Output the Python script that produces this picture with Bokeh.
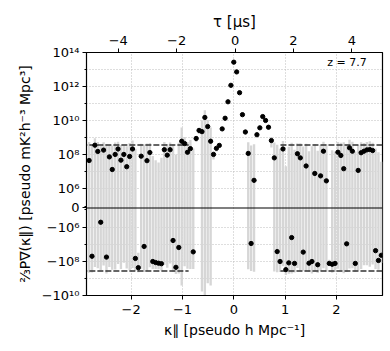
import numpy as np
from bokeh.plotting import figure
from bokeh.models import (ColumnDataSource, FixedTicker, LinearAxis, Range1d,
                          CustomJSTickFormatter, Label, Span)
from bokeh.embed import file_html
from bokeh.resources import INLINE

# ---------------- data ----------------
kpar = [-2.820, -2.764, -2.707, -2.651, -2.594, -2.538, -2.482, -2.425, -2.369, -2.312,
        -2.256, -2.200, -2.143, -2.087, -2.030, -1.974, -1.918, -1.861, -1.805, -1.748,
        -1.692, -1.636, -1.579, -1.523, -1.466, -1.410, -1.354, -1.297, -1.241, -1.184,
        -1.128, -1.072, -1.015, -0.959, -0.902, -0.846, -0.790, -0.733, -0.677, -0.620,
        -0.564, -0.508, -0.451, -0.395, -0.338, -0.282, -0.226, -0.169, -0.113, -0.056,
        0.000, 0.056, 0.113, 0.169, 0.226, 0.282, 0.338, 0.395, 0.451, 0.508,
        0.564, 0.620, 0.677, 0.733, 0.790, 0.846, 0.902, 0.959, 1.015, 1.072,
        1.128, 1.184, 1.241, 1.297, 1.354, 1.410, 1.466, 1.523, 1.579, 1.636,
        1.692, 1.748, 1.805, 1.861, 1.918, 1.974, 2.030, 2.087, 2.143, 2.200,
        2.256, 2.312, 2.369, 2.425, 2.482, 2.538, 2.594, 2.651, 2.707, 2.764,
        2.820, 2.876]

power = [4.4e7, -4.9e7, 3.5e8, 1.5e8, -7.3e5, 1.8e8, -5.5e7, 7.2e7, 1.3e7, 1.0e8,
         2.1e8, 4.6e7, 1.0e8, 1.9e7, 7.6e7, 2.1e8, -6.6e7, -2.3e8, 7.9e7, -1.3e7,
         4.3e7, 1.3e8, -1.0e8, -1.15e8, -1.26e8, -1.35e8, 1.9e8, 9.1e7, 1.9e8, -5.8e6,
         -2.2e8, -1.5e7, 6.0e8, 4.4e8, 1.35e8, 2.2e8, -2.7e7, 8.7e8, 2.6e9, 2.2e9,
         1.5e10, 4.4e9, 6.0e8, 1.0e8, 2.3e8, 3.4e8, 3.2e9, 1.35e10, 1.26e11, 1.17e12,
         2.7e13, 7.2e12, 4.3e11, 2.2e10, 2.1e9, 1.15e8, -8.7e6, 3.0e6, 1.45e9, 3.7e9,
         1.7e10, 1.0e10, 4.0e9, 6.6e8, 6.3e7, -2.6e7, -1.0e8, 2.1e8, -3.0e8, -1.2e8,
         -3.9e6, -1.3e8, 1.1e8, 6.3e7, -2.8e7, 2.1e7, -1.26e8, -1.0e8, 7.6e6, -1.55e8,
         5.5e6, 1.55e8, 2.8e6, -1.3e8, -1.45e8, -1.3e8, 1.35e8, 8.7e7, 1.45e7, -9.1e6,
         2.45e8, 1.55e8, -1.3e8, 1.15e7, 1.26e8, 1.55e8, 1.86e8, 1.95e8, 1.7e8, -2.3e7,
         -8.7e7, -4.3e7]

power_err = [5.0e8, 4.0e8, 5.6e8, 4.0e8, 3.2e8, 3.5e8, 4.5e8, 2.8e8, 3.2e8, 4.0e8,
             3.5e8, 3.2e8, 2.2e8, 2.8e8, 4.0e8, 4.5e8, 2.8e8, 2.0e8, 3.5e8, 4.0e8,
             4.0e8, 3.5e8, 1.8e8, 1.6e8, 1.6e8, 2.0e8, 3.5e8, 3.2e8, 3.2e8, 4.0e8,
             3.2e8, 5.0e8, 3.2e9, 6.3e8, 4.0e8, 5.0e8, 2.5e8, 3.2e8, 1.0e9, 8.0e9,
             2.5e10, 6.3e9, 3.2e9, 5.0e7, 8.0e7, 1.0e8, 3.2e8, 1.0e9, 3.2e9, 1.0e10,
             3.2e10, 2.0e10, 6.3e9, 2.0e9, 6.3e8, 4.0e8, 3.5e8, 4.0e8, 4.0e8, 6.3e8,
             1.6e9, 1.6e9, 1.0e9, 4.0e8, 4.5e8, 4.0e8, 3.2e8, 4.0e8, 3.2e8, 4.0e8,
             5.0e8, 3.2e8, 3.5e8, 4.0e8, 3.2e8, 4.0e8, 2.8e8, 4.0e8, 4.0e8, 3.2e8,
             3.5e8, 4.0e8, 4.0e8, 5.0e7, 3.2e8, 2.8e8, 4.0e8, 4.0e8, 5.0e8, 4.0e8,
             5.0e8, 4.0e8, 2.8e8, 3.5e8, 4.0e8, 3.2e8, 3.5e8, 4.0e8, 3.2e8, 2.5e8,
             2.2e8, 8.0e7]

noise_level = 3.6e8
horizon_neg = -0.88
horizon_pos = 0.91
redshift_text = "z = 7.7"

kpar_limits = (-2.871, 2.899)
tau_limits = (-5.086, 5.051)
power_limits = (-1e10, 1e14)

ytick_values = [1e14, 1e12, 1e10, 1e8, 1e6, 0, -1e6, -1e8, -1e10]
yminor_values = [1e13, 1e11, 1e9, 1e7, 1e5, -1e5, -1e7, -1e9]
ygrid_values = [1e13, 1e12, 1e11, 1e10, 1e9, 1e8, 1e7, 1e6,
                -1e6, -1e7, -1e8, -1e9]
kpar_ticks = [-2, -1, 0, 1, 2]
tau_ticks = [-4, -2, 0, 2, 4]

# ---------------- symlog transform ----------------
LINTHRESH = 1e6
LINSCALE = 1.15


def symlog(v):
    v = np.asarray(v, dtype=float)
    a = np.abs(v)
    return np.where(a <= LINTHRESH, v / LINTHRESH * LINSCALE,
                    np.sign(v) * (LINSCALE + np.log10(np.maximum(a, LINTHRESH) / LINTHRESH)))


pw = np.array(power)
er = np.array(power_err)
src = ColumnDataSource(dict(
    k=kpar,
    y=symlog(pw),
    top=symlog(pw + er),
    bottom=symlog(pw - er),
))

FONT = "DejaVu Sans"

p = figure(width=390, height=351,
           x_range=Range1d(*kpar_limits),
           y_range=Range1d(float(symlog(power_limits[0])), float(symlog(power_limits[1]))),
           output_backend="svg", toolbar_location=None,
           min_border_left=86, min_border_right=8, min_border_top=52, min_border_bottom=56,
           x_axis_label="κ∥ [pseudo h Mpc⁻¹]",
           y_axis_label="⅔P∇(κ∥) [pseudo mK²h⁻³ Mpc³]")
p.background_fill_color = "white"
p.border_fill_color = "white"
p.outline_line_color = "black"
p.outline_line_width = 1.2
p.outline_line_alpha = 1.0

# grids
p.xgrid.ticker = FixedTicker(ticks=kpar_ticks)
p.ygrid.ticker = FixedTicker(ticks=symlog(ygrid_values).tolist())
for g in (p.xgrid, p.ygrid):
    g.grid_line_color = "#bdbdbd"
    g.grid_line_dash = "1 2"
    g.grid_line_width = 1

# error bars
p.vbar(x="k", top="top", bottom="bottom", width=0.046, source=src,
       fill_color="#d6d6d6", line_color=None)

# noise level dashed lines
nl = float(symlog(noise_level))
for xs in ([kpar_limits[0] - 0.1, horizon_neg], [horizon_pos, kpar_limits[1] + 0.1]):
    for sgn in (1, -1):
        p.line(xs, [sgn * nl, sgn * nl], line_color="#333333", line_width=1.6,
               line_dash="6 2")

# zero line
p.add_layout(Span(location=0, dimension="width", line_color="black", line_width=1.2))

# points
p.scatter(x="k", y="y", source=src, size=4.3, color="black")

# y axis
yax = p.yaxis[0]
yax.ticker = FixedTicker(ticks=symlog(ytick_values).tolist(),
                         minor_ticks=symlog(yminor_values).tolist())
yax.formatter = CustomJSTickFormatter(args=dict(L=LINSCALE), code="""
const a = Math.abs(tick);
if (a < 1e-9) return "0";
const e = Math.round(a - L + 6);
const sup = {"0":"\u2070","1":"\u00b9","2":"\u00b2","3":"\u00b3","4":"\u2074",
             "5":"\u2075","6":"\u2076","7":"\u2077","8":"\u2078","9":"\u2079"};
let s = "";
for (const ch of String(e)) s += sup[ch];
return (tick < 0 ? "\u2212" : "") + "10" + s;
""")

xax = p.xaxis[0]
xax.ticker = FixedTicker(ticks=kpar_ticks, minor_ticks=[])
xax.formatter = CustomJSTickFormatter(code="""
return (tick < 0 ? "\u2212" : "") + String(Math.abs(tick));
""")

p.extra_x_ranges = {"tau": Range1d(*tau_limits)}
tax = LinearAxis(x_range_name="tau", axis_label="τ [μs]",
                 ticker=FixedTicker(ticks=tau_ticks, minor_ticks=[]),
                 formatter=CustomJSTickFormatter(code="""
return (tick < 0 ? "\u2212" : "") + String(Math.abs(tick));
"""))
p.add_layout(tax, "above")

for ax in (xax, yax, tax):
    ax.axis_line_color = "black"
    ax.major_tick_line_color = "black"
    ax.minor_tick_line_color = "black"
    ax.major_tick_in = 0
    ax.major_tick_out = 4
    ax.minor_tick_in = 0
    ax.minor_tick_out = 2
    ax.major_label_text_font = FONT
    ax.major_label_text_font_size = "13px"
    ax.major_label_text_color = "black"
    ax.axis_label_text_font = FONT
    ax.axis_label_text_font_size = "14px"
    ax.axis_label_text_font_style = "normal"
    ax.axis_label_text_color = "black"

tax.axis_label_text_font_size = "15px"
xax.major_label_standoff = 5
xax.axis_label_standoff = 5
tax.major_label_standoff = 4
tax.axis_label_standoff = 2
yax.major_label_standoff = 3
yax.axis_label_standoff = 6

# redshift annotation
p.add_layout(Label(x=1.82, y=8.56, text=redshift_text, text_font=FONT,
                   text_font_size="11px", text_baseline="middle", text_align="left",
                   text_color="black"))

open("out.html", "w").write(file_html(p, INLINE))
